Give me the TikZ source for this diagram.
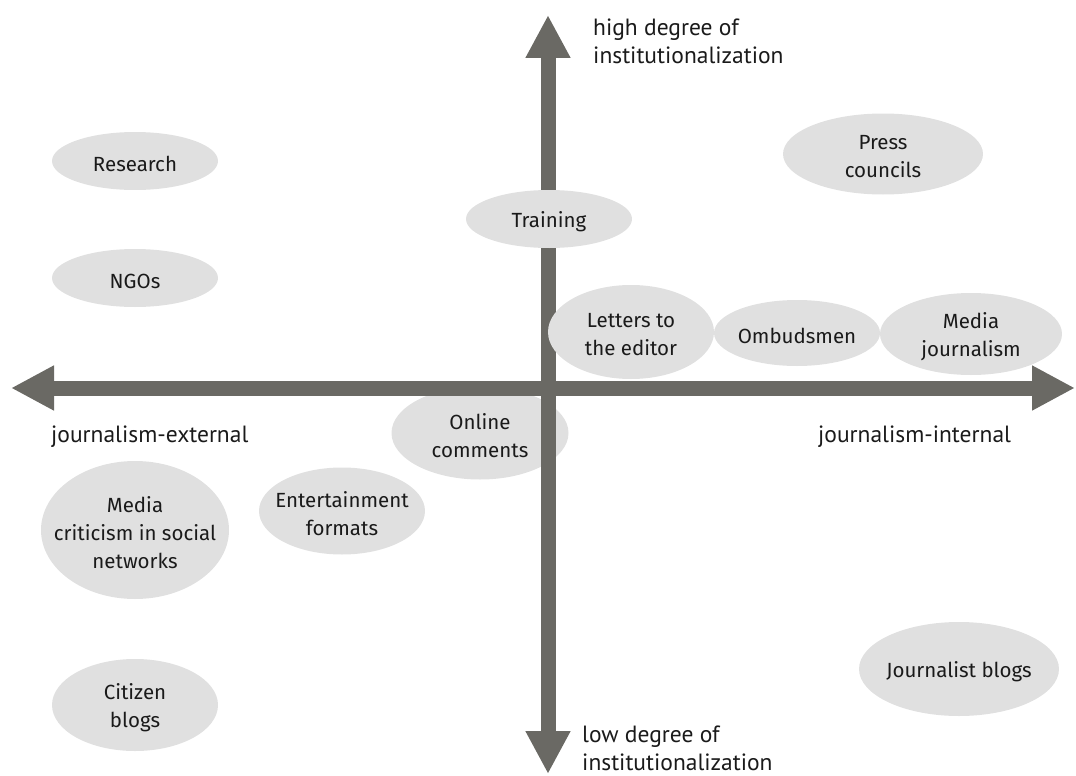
\documentclass[tikz,border=0pt]{standalone}
\usepackage{fontspec}
\setmainfont{PT Sans}
\newfontfamily\bubblefont{Fira Sans}
\usetikzlibrary{arrows.meta,shapes.geometric}
\definecolor{axisgray}{RGB}{106,105,100}
\definecolor{bubblegray}{RGB}{224,224,224}
\definecolor{ink}{RGB}{26,26,26}
\tikzset{
  axis/.style={draw=axisgray, line width=15pt,
    {Triangle[width=42pt,length=43pt]}-{Triangle[width=42pt,length=43pt]}},
  bubble/.style={shape=ellipse, fill=bubblegray, draw=none, inner sep=0pt},
  bubbletext/.style={font=\bubblefont\fontsize{20.5}{28}\selectfont, text=ink, align=center, inner sep=0pt, yshift=-3pt},
  axislabel/.style={font=\fontsize{23.5}{28}\selectfont, text=ink, align=left, inner sep=0pt}
}
\begin{document}
\begin{tikzpicture}[x=1pt,y=-1pt]
\useasboundingbox (0,0) rectangle (1076,776);
% ellipse lying under the axes
\node[bubble, minimum width=177pt, minimum height=93pt] (online) at (480,433) {};
\node[bubbletext] at (online) {Online\\comments};
% axes
\coordinate (left) at (11,388);
\coordinate (right) at (1075,388);
\coordinate (top) at (548,15);
\coordinate (bottom) at (548,774);
\draw[axis] (left) -- (right);
\draw[axis] (bottom) -- (top);
% ellipses
\node[bubble, minimum width=166pt, minimum height=58pt] (research) at (135,161) {};
\node[bubbletext] at (research) {Research};
\node[bubble, minimum width=166pt, minimum height=58pt] (ngos) at (135,278) {};
\node[bubbletext] at (ngos) {NGOs};
\node[bubble, minimum width=166pt, minimum height=58pt] (training) at (549,219) {};
\node[bubbletext] at (training) {Training};
\node[bubble, minimum width=200pt, minimum height=81pt] (press) at (883,154) {};
\node[bubbletext] at (press) {Press\\councils};
\node[bubble, minimum width=166pt, minimum height=94pt] (letters) at (631,332) {};
\node[bubbletext] at (letters) {Letters to\\the editor};
\node[bubble, minimum width=166pt, minimum height=66pt] (ombuds) at (797,333) {};
\node[bubbletext] at (ombuds) {Ombudsmen};
\node[bubble, minimum width=182pt, minimum height=82pt] (mediaj) at (971,334) {};
\node[bubbletext] at (mediaj) {Media\\journalism};
\node[bubble, minimum width=188pt, minimum height=138pt] (social) at (135,530) {};
\node[bubbletext] at (social) {Media\\criticism in social\\networks};
\node[bubble, minimum width=166pt, minimum height=87pt] (entertain) at (342,511) {};
\node[bubbletext] at (entertain) {Entertainment\\formats};
\node[bubble, minimum width=166pt, minimum height=92pt] (citizen) at (135,705) {};
\node[bubbletext] at (citizen) {Citizen\\blogs};
\node[bubble, minimum width=200pt, minimum height=94pt] (jblogs) at (959,669) {};
\node[bubbletext] at (jblogs) {Journalist blogs};
% axis labels
\node[axislabel, anchor=north west] (high) at (593,19) {high degree of\\institutionalization};
\node[axislabel, anchor=north west] (low) at (582,726) {low degree of\\institutionalization};
\node[axislabel, anchor=base west] (external) at (51,442) {journalism-external};
\node[axislabel, anchor=base west] (internal) at (818,442) {journalism-internal};
\end{tikzpicture}
\end{document}
